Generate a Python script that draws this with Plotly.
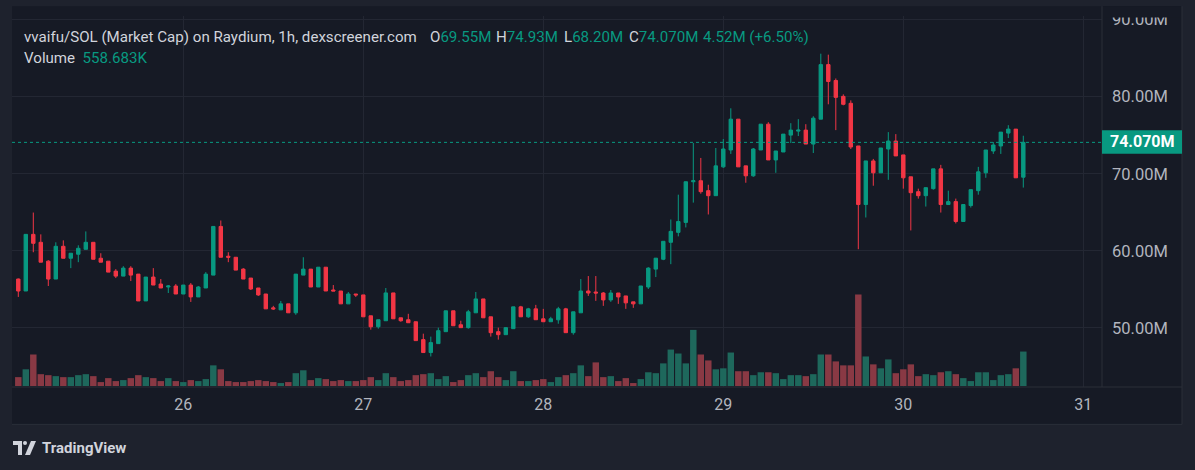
import plotly.graph_objects as go
import pandas as pd

# ---------------- data (values in millions of USD market cap, hourly) ----------------
start_time = "2024-10-25 02:00"

opens = [56.33, 54.78, 62.13, 61.10, 58.65, 56.33, 60.58, 59.03, 59.55, 60.19,
         61.10, 59.03, 58.65, 57.36, 56.71, 57.75, 56.97, 53.49, 56.59, 55.68,
         55.30, 55.43, 54.39, 55.55, 54.01, 55.17, 56.84, 63.16, 59.29, 59.16,
         57.62, 56.46, 55.17, 54.39, 52.59, 52.33, 53.11, 51.95, 56.84, 57.62,
         55.30, 57.87, 54.91, 54.78, 53.11, 54.39, 54.27, 51.56, 50.14, 50.92,
         54.53, 51.30, 51.05, 50.79, 48.47, 46.79, 47.95, 49.50, 52.21, 50.40,
         50.02, 51.95, 53.75, 51.43, 49.50, 49.11, 49.89, 52.72, 51.43, 52.46,
         51.17, 50.79, 51.04, 52.46, 49.37, 51.95, 54.78, 54.65, 54.52, 53.62,
         54.52, 54.14, 53.37, 53.11, 55.30, 57.62, 58.90, 61.10, 62.39, 63.68,
         68.96, 69.09, 67.80, 67.15, 70.89, 73.08, 77.08, 71.02, 69.73, 73.08,
         76.43, 71.79, 72.82, 75.01, 75.53, 75.66, 73.85, 77.08, 84.16, 82.10,
         80.04, 79.14, 73.60, 66.00, 71.66, 70.12, 73.21, 74.24, 72.44, 69.60,
         67.67, 67.15, 68.06, 70.63, 66.00, 66.38, 63.80, 65.87, 67.80, 70.12,
         72.95, 73.60, 75.27, 75.79, 69.55]
highs = [56.40, 62.13, 64.96, 62.13, 58.78, 61.10, 61.35, 59.68, 60.71, 62.51,
         61.10, 59.68, 58.65, 57.62, 58.00, 58.00, 56.97, 56.59, 57.75, 56.33,
         55.55, 55.68, 55.55, 55.81, 55.43, 57.23, 63.16, 63.93, 59.81, 59.16,
         57.75, 56.46, 55.17, 54.39, 52.85, 53.49, 53.11, 56.97, 59.16, 57.62,
         57.87, 57.87, 55.55, 54.78, 54.65, 54.39, 54.27, 51.56, 51.05, 55.17,
         54.53, 51.30, 51.82, 50.79, 49.24, 48.86, 50.02, 52.21, 52.21, 50.92,
         52.33, 54.65, 53.75, 51.43, 50.02, 50.02, 52.72, 52.85, 52.59, 52.98,
         52.46, 51.43, 52.72, 52.59, 52.08, 56.33, 56.72, 56.72, 54.65, 54.91,
         54.52, 54.14, 53.37, 55.43, 57.87, 59.04, 61.23, 64.06, 67.28, 68.96,
         73.99, 72.05, 68.57, 73.34, 74.50, 78.49, 77.08, 71.02, 73.34, 76.43,
         76.69, 72.95, 75.14, 76.56, 77.08, 76.43, 77.46, 85.58, 85.45, 82.36,
         80.30, 79.52, 73.60, 71.66, 71.92, 73.34, 75.40, 75.14, 72.44, 69.60,
         68.06, 68.19, 70.63, 71.15, 67.80, 66.77, 66.00, 67.93, 70.89, 73.08,
         74.11, 75.40, 76.30, 75.79, 74.93]
lows = [54.01, 54.78, 59.81, 58.52, 55.43, 56.33, 59.03, 57.75, 58.52, 60.19,
        58.90, 58.52, 57.23, 56.46, 56.71, 56.07, 53.49, 53.49, 55.55, 55.17,
        54.52, 54.39, 54.39, 53.36, 54.01, 55.17, 56.84, 59.16, 58.52, 57.49,
        56.33, 54.91, 54.14, 52.46, 52.33, 52.33, 51.95, 51.69, 56.84, 55.30,
        55.30, 54.78, 54.78, 53.11, 53.11, 54.01, 51.43, 49.76, 49.89, 50.92,
        51.17, 50.79, 50.66, 48.34, 46.79, 46.28, 47.95, 49.50, 50.27, 50.02,
        49.89, 51.95, 51.30, 48.86, 48.47, 49.11, 49.89, 51.43, 51.30, 51.05,
        50.79, 50.79, 50.53, 49.37, 49.11, 51.95, 54.14, 53.50, 52.85, 53.37,
        53.11, 52.46, 52.59, 53.11, 55.04, 56.59, 58.78, 58.26, 61.87, 63.03,
        66.25, 67.41, 64.71, 67.15, 70.76, 72.57, 70.89, 68.83, 69.60, 73.08,
        71.79, 70.12, 72.82, 73.98, 74.89, 73.85, 72.69, 77.08, 79.01, 75.66,
        78.88, 73.21, 60.20, 64.32, 68.44, 70.12, 69.21, 72.31, 68.06, 62.64,
        66.77, 65.74, 67.93, 64.96, 66.00, 63.55, 63.80, 65.61, 67.28, 69.47,
        72.57, 72.57, 74.63, 69.47, 68.20]
closes = [54.78, 62.13, 60.97, 58.52, 56.33, 60.58, 59.03, 59.68, 60.32, 61.10,
          58.90, 58.52, 57.23, 56.71, 57.75, 56.84, 53.49, 56.59, 55.55, 55.17,
          55.43, 54.39, 55.55, 54.01, 55.30, 56.97, 63.16, 59.16, 59.16, 57.49,
          56.33, 55.04, 54.27, 52.46, 52.46, 53.11, 51.95, 56.97, 57.62, 55.30,
          57.87, 54.78, 54.78, 53.11, 54.39, 54.27, 51.43, 50.14, 51.05, 54.53,
          51.17, 50.92, 50.66, 48.34, 46.79, 48.08, 49.63, 52.21, 50.27, 50.02,
          52.08, 53.75, 51.30, 49.37, 49.11, 50.02, 52.72, 51.43, 52.46, 51.05,
          50.79, 51.17, 52.46, 49.37, 52.08, 54.78, 54.52, 54.52, 53.62, 54.52,
          54.01, 53.24, 53.11, 55.43, 57.75, 59.04, 61.23, 62.52, 63.80, 68.96,
          69.09, 67.67, 67.15, 71.02, 73.21, 77.08, 70.89, 69.73, 73.21, 76.43,
          71.79, 72.95, 75.14, 75.66, 75.66, 73.85, 77.21, 84.16, 81.97, 79.91,
          79.01, 73.47, 66.00, 71.66, 70.12, 73.34, 74.24, 72.31, 69.47, 67.54,
          67.15, 68.19, 70.63, 66.00, 66.38, 63.80, 66.00, 67.93, 70.25, 73.08,
          73.73, 75.40, 75.79, 69.47, 74.07]
volumes_k = [144, 271, 511, 192, 176, 160, 144, 144, 176, 192,
             160, 64, 128, 80, 96, 128, 176, 144, 128, 80,
             128, 80, 64, 96, 80, 112, 335, 271, 80, 64,
             64, 80, 96, 80, 64, 48, 64, 208, 255, 96,
             128, 112, 80, 96, 80, 80, 96, 144, 96, 208,
             144, 80, 96, 176, 192, 208, 112, 160, 64, 96,
             176, 208, 144, 240, 144, 96, 240, 80, 80, 96,
             112, 64, 144, 176, 208, 335, 160, 383, 144, 160,
             80, 128, 48, 112, 223, 208, 367, 591, 527, 367,
             910, 511, 415, 271, 287, 543, 240, 240, 176, 223,
             223, 208, 112, 176, 176, 160, 192, 511, 511, 399,
             335, 335, 1484, 479, 351, 287, 431, 208, 271, 351,
             160, 192, 176, 223, 240, 192, 128, 80, 223, 223,
             96, 176, 192, 287, 558.683]

day_ticks = ["2024-10-26", "2024-10-27", "2024-10-28", "2024-10-29", "2024-10-30", "2024-10-31"]
day_labels = ["26", "27", "28", "29", "30", "31"]
price_ticks = [50, 60, 70, 80, 90]
price_labels = ["50.00M", "60.00M", "70.00M", "80.00M", "90.00M"]
last_price = 74.07
last_label = "74.070M"

title_text = "vvaifu/SOL (Market Cap) on Raydium, 1h, dexscreener.com"
ohlc_items = [("O", "69.55M"), ("H", "74.93M"), ("L", "68.20M"), ("C", "74.070M")]
change_text = "4.52M (+6.50%)"
volume_text = "558.683K"

# ---------------- style ----------------
GREEN = "#089981"
RED = "#f23645"
VOL_GREEN = "#1e685c"
VOL_RED = "#893944"
OUTER_BG = "#1e222d"
INNER_BG = "#161a25"
GRID = "#232733"
SEP = "#2a2e39"
TEXT = "#d1d4dc"
AXIS_TEXT = "#b2b5be"
FONT = "Roboto"

W, H = 1195, 470
PL, PR, PT, PB = 12, 1102, 10, 387


def px(x):
    return (x - PL) / (PR - PL)


def py(y):
    return (PB - y) / (PB - PT)


times = pd.date_range(start_time, periods=len(opens), freq="h")
vol_colors = [VOL_GREEN if c >= o else VOL_RED for o, c in zip(opens, closes)]

fig = go.Figure()

fig.add_trace(go.Bar(
    x=times, y=volumes_k, yaxis="y2",
    marker=dict(color=vol_colors, line=dict(width=0)),
    width=3600000 * 0.86, hoverinfo="skip", showlegend=False,
))

fig.add_trace(go.Candlestick(
    x=times, open=opens, high=highs, low=lows, close=closes,
    increasing=dict(line=dict(color=GREEN, width=1), fillcolor=GREEN),
    decreasing=dict(line=dict(color=RED, width=1), fillcolor=RED),
    whiskerwidth=0, hoverinfo="skip", showlegend=False,
))

shapes = [
    # chart container
    dict(type="rect", xref="paper", yref="paper", x0=px(12), x1=px(1182), y0=py(425), y1=py(0),
         fillcolor=INNER_BG, line=dict(width=0), layer="below"),
    # strip that clips the top price label
    dict(type="rect", xref="paper", yref="paper", x0=px(1103), x1=px(1181), y0=py(11.5), y1=py(0),
         fillcolor=INNER_BG, line=dict(width=0), layer="above"),
    # separators
    dict(type="line", xref="paper", yref="paper", x0=px(1102), x1=px(1102), y0=py(387), y1=py(0),
         line=dict(color=SEP, width=1)),
    dict(type="line", xref="paper", yref="paper", x0=px(12), x1=px(1182), y0=py(387), y1=py(387),
         line=dict(color=SEP, width=1)),
    dict(type="line", xref="paper", yref="paper", x0=px(1182), x1=px(1182), y0=py(425), y1=py(0),
         line=dict(color=SEP, width=1)),
    dict(type="line", xref="paper", yref="paper", x0=px(12), x1=px(1182), y0=py(425), y1=py(425),
         line=dict(color=SEP, width=1)),
    # last price line
    dict(type="line", xref="paper", yref="y", x0=0, x1=1, y0=last_price, y1=last_price,
         line=dict(color=GREEN, width=1, dash="dot")),
    # last price box
    dict(type="rect", xref="paper", yref="paper", x0=px(1102), x1=px(1182), y0=py(150), y1=py(126),
         fillcolor=GREEN, line=dict(width=0)),
    # TradingView logo
    dict(type="path", xref="paper", yref="paper",
         path=f"M {px(13)},{py(442)} L {px(22)},{py(442)} L {px(22)},{py(456)} L {px(18)},{py(456)} "
              f"L {px(18)},{py(446)} L {px(13)},{py(446)} Z",
         fillcolor=TEXT, line=dict(width=0)),
    dict(type="circle", xref="paper", yref="paper", x0=px(23), x1=px(27), y0=py(446), y1=py(442),
         fillcolor=TEXT, line=dict(width=0)),
    dict(type="path", xref="paper", yref="paper",
         path=f"M {px(31)},{py(442)} L {px(36)},{py(442)} L {px(30)},{py(456)} L {px(25)},{py(456)} Z",
         fillcolor=TEXT, line=dict(width=0)),
]

HDR = 15.1
annotations = [
    dict(xref="paper", yref="paper", x=px(22), y=py(31.5), xanchor="left", yanchor="middle",
         text=title_text, showarrow=False, font=dict(family=FONT, size=HDR, color=TEXT)),
    dict(xref="paper", yref="paper", x=px(22), y=py(52.5), xanchor="left", yanchor="middle",
         text=f"Volume  <span style='color:{GREEN}'>{volume_text}</span>", showarrow=False,
         font=dict(family=FONT, size=HDR, color=TEXT)),
    dict(xref="paper", yref="paper", x=px(701), y=py(31.5), xanchor="left", yanchor="middle",
         text=change_text, showarrow=False, font=dict(family=FONT, size=HDR, color=GREEN)),
    dict(xref="paper", yref="paper", x=px(1142), y=py(138), xanchor="center", yanchor="middle",
         text=f"<b>{last_label}</b>", showarrow=False, font=dict(family=FONT, size=16, color="#ffffff")),
    dict(xref="paper", yref="paper", x=px(40), y=py(449), xanchor="left", yanchor="middle",
         text="<b>TradingView</b>", showarrow=False, font=dict(family=FONT, size=15, color=TEXT)),
]
for (lab, val), xpos in zip(ohlc_items, [428, 494, 562, 627]):
    annotations.append(dict(xref="paper", yref="paper", x=px(xpos), y=py(31.5), xanchor="left", yanchor="middle",
                            text=f"{lab}<span style='color:{GREEN}'>{val}</span>", showarrow=False,
                            font=dict(family=FONT, size=HDR, color=TEXT)))

fig.update_layout(
    width=W, height=H,
    margin=dict(l=PL, r=W - PR, t=PT, b=H - PB),
    paper_bgcolor=OUTER_BG, plot_bgcolor=INNER_BG,
    boxgap=0.35,
    showlegend=False,
    hovermode=False,
    xaxis=dict(
        type="date",
        range=["2024-10-25 01:09:36", "2024-10-31 02:29:30"],
        tickmode="array", tickvals=day_ticks, ticktext=day_labels,
        showgrid=True, gridcolor=GRID, gridwidth=1,
        zeroline=False, showline=False, ticks="",
        tickfont=dict(family=FONT, size=16, color=AXIS_TEXT),
        rangeslider=dict(visible=False), fixedrange=True,
        ticklabelstandoff=6,
    ),
    yaxis=dict(
        side="right", range=[42.32, 90.47],
        tickmode="array", tickvals=price_ticks, ticktext=price_labels,
        showgrid=True, gridcolor=GRID, gridwidth=1,
        zeroline=False, showline=False, ticks="",
        tickfont=dict(family=FONT, size=16.5, color=AXIS_TEXT),
        ticklabelstandoff=9,
    ),
    yaxis2=dict(
        overlaying="y", range=[-16, 5999], visible=False, showgrid=False, zeroline=False,
    ),
    shapes=shapes,
    annotations=annotations,
)

fig.write_html(
    "out.html",
    config={"displayModeBar": False, "staticPlot": True},
    post_script="document.body.style.margin='0';document.body.style.padding='0';"
                "document.body.style.background='#1e222d';",
)
